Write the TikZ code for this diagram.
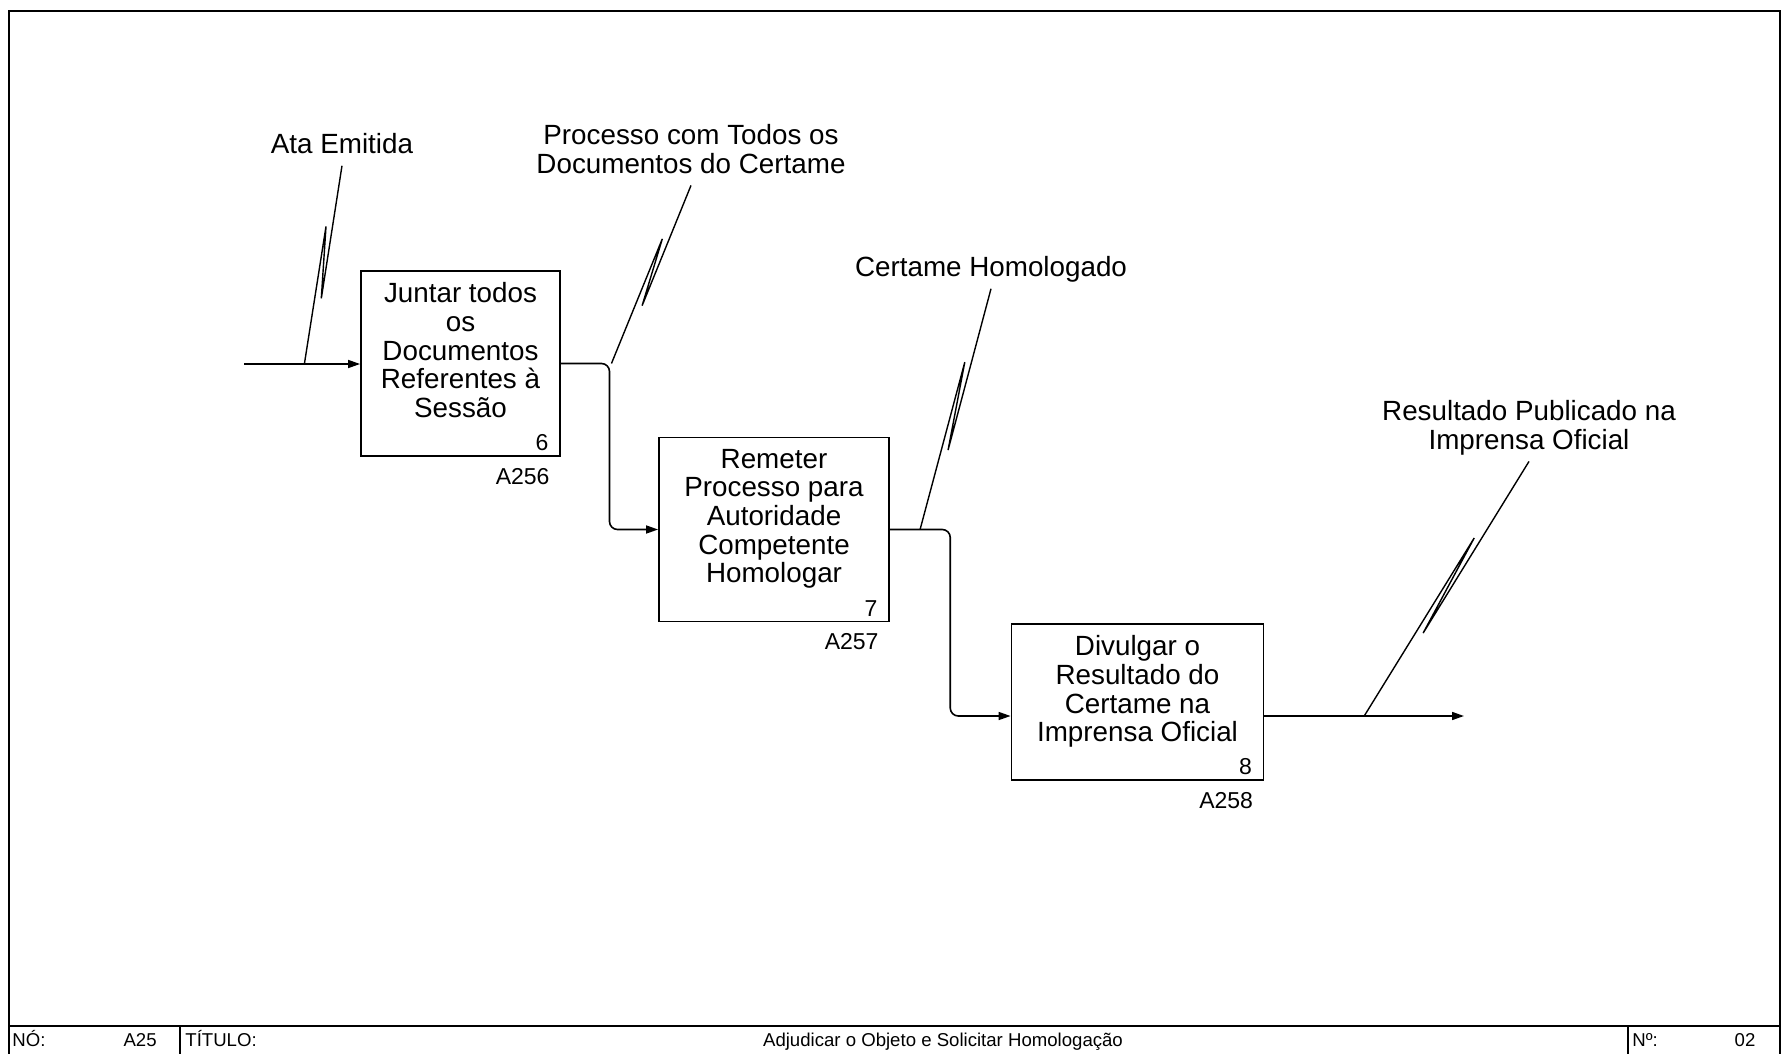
\documentclass[tikz,border=0pt]{standalone}
\usepackage{fontspec}
\setmainfont{Liberation Sans}
\usetikzlibrary{positioning,calc,arrows.meta}

% squiggle leader from a label down to its arrow
\newcommand{\idefleader}[2]{%
  \draw[leader] (#1) -- ($(#1)!0.665!(#2)!2.2pt!90:(#2)$)
    -- ($(#1)!0.31!(#2)!2.2pt!-90:(#2)$) -- (#2);}

\begin{document}
\begin{tikzpicture}[x=0.5pt,y=-0.5pt,
  proc/.style={draw, line width=0.9pt, inner sep=0pt},
  proctext/.style={anchor=north, align=center, inner sep=0pt,
    font=\fontsize{13.9}{14.35}\selectfont},
  lbl/.style={anchor=north, align=center, inner sep=3pt,
    font=\fontsize{13.9}{14.35}\selectfont, execute at end node={\vphantom{g}}},
  num/.style={inner sep=0pt, font=\fontsize{11.5}{12}\selectfont},
  flow/.style={line width=0.8pt, rounded corners=4pt,
    -{Triangle[length=6pt,width=4pt]}},
  leader/.style={line width=0.7pt},
  frame/.style={line width=0.7pt},
  foot/.style={inner sep=0pt, font=\fontsize{9.3}{10}\selectfont}]
  \useasboundingbox (0,0) rectangle (1782,1054);

  % Frame and footer
  \draw[frame] (9,1054) -- (9,11) -- (1780,11) -- (1780,1054);
  \draw[frame] (9,1026) -- (1780,1026);
  \draw[frame] (180,1026) -- (180,1054);
  \draw[frame] (1628,1026) -- (1628,1054);
  \node[foot, anchor=base west] (no) at (12,1046) {NÓ:};
  \node[foot, anchor=base east] (noval) at (157,1046) {A25};
  \node[foot, anchor=base west] (tit) at (185,1046) {TÍTULO:};
  \node[foot, anchor=base] (titval) at (943,1046) {Adjudicar o Objeto e Solicitar Homologação};
  \node[foot, anchor=base west] (nr) at (1632,1046) {Nº:};
  \node[foot, anchor=base] (nrval) at (1745,1046) {02};

  % Activities
  \node[proc, minimum width=99.5pt, minimum height=92.5pt] (jun) at (460.5,363.5) {};
  \node[proc, minimum width=115pt, minimum height=92pt] (rem) at (774,529.5) {};
  \node[proc, minimum width=126pt, minimum height=78pt] (div) at (1137.5,702) {};

  \node[proctext] (junT) at ([shift={(0,12)}]jun.north)
    {Juntar todos\\os\\Documentos\\Referentes à\\Sessão};
  \node[proctext] (remT) at ([shift={(0,12)}]rem.north)
    {Remeter\\Processo para\\Autoridade\\Competente\\Homologar};
  \node[proctext] (divT) at ([shift={(0,12)}]div.north)
    {Divulgar o\\Resultado do\\Certame na\\Imprensa Oficial};

  \node[num, anchor=south east] (junN) at ([shift={(-12,-6)}]jun.south east) {6};
  \node[num, anchor=south east] (remN) at ([shift={(-12,-6)}]rem.south east) {7};
  \node[num, anchor=south east] (divN) at ([shift={(-12,-6)}]div.south east) {8};
  \node[num, anchor=north east] (junC) at ([shift={(-11,11)}]jun.south east) {A256};
  \node[num, anchor=north east] (remC) at ([shift={(-11,11)}]rem.south east) {A257};
  \node[num, anchor=north east] (divC) at ([shift={(-11,11)}]div.south east) {A258};

  % Labels
  \node[lbl] (ata) at (342,127) {Ata Emitida};
  \node[lbl] (proc) at (691,118) {Processo com Todos os\\Documentos do Certame};
  \node[lbl] (hom) at (991,250) {Certame Homologado};
  \node[lbl] (pub) at (1529,394) {Resultado Publicado na\\Imprensa Oficial};

  % Arrows
  \coordinate (ataIn) at (244,364);
  \coordinate (divIn) at ([shift={(0,14)}]div.west);
  \coordinate (divOut) at ([shift={(0,14)}]div.east);
  \coordinate (pubEnd) at (1464,716);
  \draw[flow] (ataIn) -- (ataIn -| jun.west);
  \draw[flow] (jun.east) -| ($(jun.east)!0.5!(rem.west)$) |- (rem.west);
  \draw[flow] (rem.east) -| ($(rem.east)!0.5!(divIn)$) |- (divIn);
  \draw[flow] (divOut) -- (pubEnd);

  % Leaders
  \coordinate (jAta) at ($(ataIn)!0.52!(ataIn -| jun.west)$);
  \coordinate (jProc) at ($(jun.east)!0.52!(jun.east -| rem.west)$);
  \coordinate (jHom) at ($(rem.east)!0.25!(rem.east -| div.west)$);
  \coordinate (jPub) at ($(divOut)!0.5!(pubEnd)$);
  \idefleader{ata.south}{jAta}
  \idefleader{proc.south}{jProc}
  \idefleader{hom.south}{jHom}
  \idefleader{pub.south}{jPub}
\end{tikzpicture}
\end{document}
